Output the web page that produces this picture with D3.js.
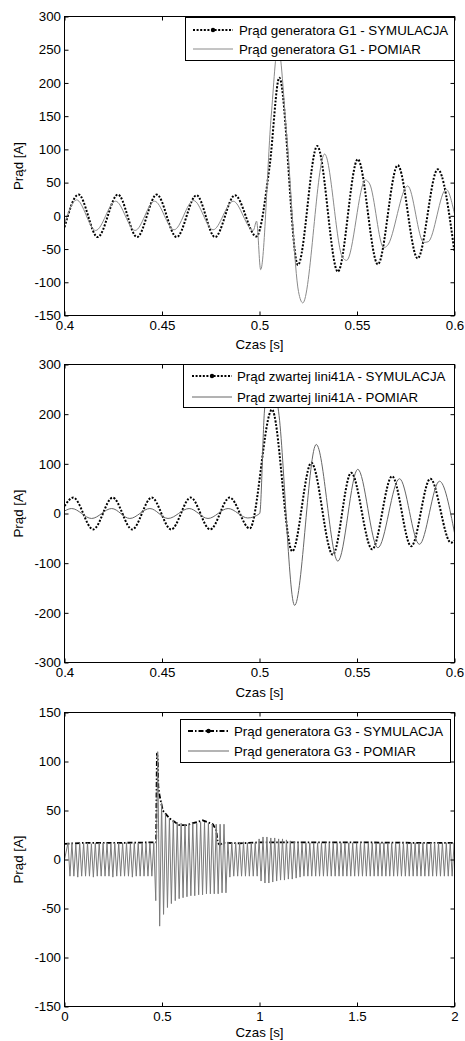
<!DOCTYPE html>
<html>
<head>
<meta charset="utf-8">
<script src="https://cdn.jsdelivr.net/npm/d3@7"></script>
<style>
body { margin: 0; background: #fff; }
svg text { font-family: "Liberation Sans", Arial, sans-serif; font-size: 13.3px; fill: #000; }
</style>
</head>
<body>
<svg id="fig" width="465" height="1041"></svg>
<script>
// ---- values: [time s, current A] ----

// panel 1: generator G1, simulation (peaks / troughs)
var SIM1 = [[0.400,-17],[0.4072,32],[0.4170,-32],[0.4274,32],[0.4372,-32],[0.4473,32],
  [0.4575,-32],[0.4677,31],[0.4772,-32],[0.4874,31],[0.4984,-31],[0.5052,75],[0.5102,208],
  [0.5197,-74],[0.5296,105],[0.5402,-84],[0.5504,85],[0.5607,-73],[0.5709,76],[0.5811,-64],
  [0.5914,70],[0.600,-55]];

// panel 1: generator G1, measurement
var MEAS1 = [[0.400,-12],[0.4062,24],[0.4160,-22],[0.4262,22],[0.4362,-22],[0.4462,22],
  [0.4562,-21],[0.4662,23],[0.4762,-21],[0.4865,22],[0.4968,-22],[0.4985,-8],[0.5006,-81],
  [0.5060,150],[0.5095,255],[0.5140,120],[0.5200,-114],[0.5222,-131],[0.5334,93],
  [0.5425,-62],[0.5447,-67],[0.5543,54],[0.5565,48],[0.5637,-48],[0.5655,-45],[0.5760,45],
  [0.5842,-40],[0.5865,-39],[0.5957,40],[0.600,3]];

// panel 2: faulted line 41A, simulation
var SIM2 = [[0.400,15],[0.4045,32],[0.4147,-32],[0.4247,32],[0.4347,-32],[0.4447,32],
  [0.4547,-32],[0.4647,32],[0.4747,-32],[0.4847,32],[0.4950,-30],[0.5064,209],[0.5168,-76],
  [0.5266,102],[0.5376,-83],[0.5470,82],[0.5578,-72],[0.5680,75],[0.5778,-66],[0.5876,70],
  [0.5982,-59],[0.600,-55]];

// panel 2: faulted line 41A, measurement
var MEAS2 = [[0.400,5],[0.4037,10],[0.4139,-10],[0.4242,10],[0.4335,-10],[0.4438,10],
  [0.4531,-10],[0.4639,10],[0.4736,-10],[0.4839,10],[0.4940,-9],[0.5001,0],[0.5027,213],
  [0.5060,262],[0.5095,213],[0.5180,-185],[0.5291,139],[0.5402,-96],[0.5504,89],
  [0.5607,-69],[0.5718,70],[0.5820,-62],[0.5923,65],[0.600,-39]];

// panel 3: generator G3, simulation (rms-like trace)
var SIM3 = [[0.000,16],[0.100,17],[0.300,17],[0.470,17.5],[0.4715,60],[0.4740,108],
  [0.4785,104],[0.4810,75],[0.4870,66],[0.5040,50],[0.5380,42],[0.5900,35],[0.6240,35],
  [0.6920,39],[0.7090,40],[0.7610,36],[0.7780,30],[0.7860,17],[0.7960,15],[0.8120,17],
  [0.9000,16.5],[1.000,17.5],[1.200,17.5],[1.500,17.5],[1.800,17],[2.000,17]];

// panel 3: generator G3, measurement, one upper and one lower peak per 50 Hz cycle
var MEAS3_T0 = 0.018, MEAS3_PERIOD = 0.02;
var MEAS3_UP = [17,17,16,17,17,17,16,17,17,17, 17,16,17,17,17,17,16,17,17,17,
  17,17,17,110,58,46,42,40,38,37, 36,36,37,37,38,38,37,36,36,36,
  36,18,17,17,17,18,17,17,17,21, 23,23,22,22,21,21,20,19,18,17,
  17,17,17,17,17,17,17,17,17,17, 17,17,17,17,17,17,17,17,17,17,
  17,17,17,17,17,17,17,17,17,17, 17,17,17,17,17,17,17,17,17,17];
var MEAS3_LO = [-17,-17,-18,-17,-17,-17,-18,-17,-17,-17, -17,-18,-17,-17,-17,-17,-18,-17,-17,-17,
  -17,-17,-42,-68,-56,-49,-45,-42,-40,-39, -38,-37,-37,-36,-36,-35,-35,-35,-35,-34,
  -34,-18,-17,-17,-17,-17,-17,-17,-17,-22, -24,-24,-23,-22,-21,-21,-20,-20,-19,-18,
  -17,-17,-17,-17,-17,-17,-17,-17,-17,-17, -17,-17,-17,-17,-17,-17,-17,-17,-17,-17,
  -17,-17,-17,-17,-17,-17,-17,-17,-17,-17, -17,-17,-17,-17,-17,-17,-17,-17,-17,-17];

var MEAS3 = [[0, 0]];
MEAS3_UP.forEach(function(v, i) {
  MEAS3.push([MEAS3_T0 + i * MEAS3_PERIOD, v]);
  MEAS3.push([MEAS3_T0 + i * MEAS3_PERIOD + MEAS3_PERIOD / 2, MEAS3_LO[i]]);
});

// ticks
var X_TICKS_A = [0.4, 0.45, 0.5, 0.55, 0.6];
var X_TICKS_B = [0, 0.5, 1, 1.5, 2];
var Y_TICKS_1 = [-150, -100, -50, 0, 50, 100, 150, 200, 250, 300];
var Y_TICKS_2 = [-300, -200, -100, 0, 100, 200, 300];
var Y_TICKS_3 = [-150, -100, -50, 0, 50, 100, 150];

var svg = d3.select('#fig');
var L = 64.5, R = 454.5;

function panel(o) {
  var x = d3.scaleLinear().domain(o.xd).range([L, R]);
  var y = d3.scaleLinear().domain(o.yd).range([o.bottom, o.top]);
  var g = svg.append('g');

  g.append('clipPath').attr('id', 'clip' + o.id)
    .append('rect').attr('x', L).attr('y', o.top).attr('width', R - L).attr('height', o.bottom - o.top);

  var plot = g.append('g').attr('clip-path', 'url(#clip' + o.id + ')');
  o.series.forEach(function(s) {
    var line = d3.line().x(function(d) { return x(d[0]); }).y(function(d) { return y(d[1]); })
      .curve(s.curve || d3.curveMonotoneX);
    plot.append('path').datum(s.data)
      .attr('d', line)
      .attr('fill', 'none')
      .attr('stroke', s.color)
      .attr('stroke-width', s.width)
      .attr('stroke-dasharray', s.dash || null)
      .attr('stroke-linejoin', 'round');
  });

  // inward ticks on all four sides, labels bottom and left only
  var fmt = function(d) { return String(d); };
  var ax = [
    [d3.axisBottom(x).tickValues(o.xt).tickSize(-4).tickPadding(5).tickFormat(fmt), 0, o.bottom],
    [d3.axisTop(x).tickValues(o.xt).tickSize(-4).tickFormat(''), 0, o.top],
    [d3.axisLeft(y).tickValues(o.yt).tickSize(-4).tickPadding(3.5).tickFormat(fmt), L, 0],
    [d3.axisRight(y).tickValues(o.yt).tickSize(-4).tickFormat(''), R, 0]
  ];
  ax.forEach(function(a) {
    var ag = g.append('g').attr('transform', 'translate(' + a[1] + ',' + a[2] + ')').call(a[0]);
    ag.select('.domain').remove();
    ag.selectAll('line').attr('stroke', '#000');
    ag.selectAll('text').attr('font-family', null).attr('font-size', null).attr('fill', '#000');
  });

  g.append('rect').attr('x', L).attr('y', o.top).attr('width', R - L).attr('height', o.bottom - o.top)
    .attr('fill', 'none').attr('stroke', '#000').attr('stroke-width', 1);

  g.append('text').attr('x', (L + R) / 2).attr('y', o.xlabelY).attr('text-anchor', 'middle').text('Czas [s]');
  g.append('text').attr('transform', 'translate(23,' + (o.top + o.bottom) / 2 + ') rotate(-90)')
    .attr('text-anchor', 'middle').text('Prąd [A]');

  // legend
  var lg = o.legend;
  g.append('rect').attr('x', lg.x0).attr('y', lg.y0).attr('width', lg.x1 - lg.x0).attr('height', lg.y1 - lg.y0)
    .attr('fill', '#fff').attr('stroke', '#000').attr('stroke-width', 1);
  o.series.forEach(function(s, i) {
    var ry = lg.rows[i];
    g.append('line').attr('x1', lg.lx0).attr('x2', lg.lx1).attr('y1', ry).attr('y2', ry)
      .attr('stroke', s.legendColor || s.color).attr('stroke-width', s.legendWidth || s.width)
      .attr('stroke-dasharray', s.dash || null);
    if (s.marker) {
      g.append('circle').attr('cx', (lg.lx0 + lg.lx1) / 2).attr('cy', ry).attr('r', 2.2).attr('fill', '#000');
    }
    g.append('text').attr('x', lg.tx).attr('y', ry + 4.6).text(s.label);
  });
}

panel({
  id: 1, xd: [0.4, 0.6], yd: [-150, 300], top: 16.5, bottom: 315.5, xt: X_TICKS_A, yt: Y_TICKS_1, xlabelY: 349,
  series: [
    { data: SIM1, color: '#000', width: 2, dash: '2,1.6', marker: true, label: 'Prąd generatora G1 - SYMULACJA' },
    { data: MEAS1, color: '#8a8a8a', width: 1, label: 'Prąd generatora G1 - POMIAR' }
  ],
  legend: { x0: 185.5, x1: 454.5, y0: 17.5, y1: 60.5, rows: [30, 49], lx0: 193, lx1: 233, tx: 239 }
});

panel({
  id: 2, xd: [0.4, 0.6], yd: [-300, 300], top: 364.5, bottom: 662.5, xt: X_TICKS_A, yt: Y_TICKS_2, xlabelY: 697,
  series: [
    { data: SIM2, color: '#000', width: 2, dash: '2,1.6', marker: true, label: 'Prąd zwartej lini41A - SYMULACJA' },
    { data: MEAS2, color: '#666', width: 1, label: 'Prąd zwartej lini41A - POMIAR' }
  ],
  legend: { x0: 183.5, x1: 454.5, y0: 364.5, y1: 407.5, rows: [376, 397], lx0: 192, lx1: 232, tx: 237 }
});

panel({
  id: 3, xd: [0, 2], yd: [-150, 150], top: 712.5, bottom: 1006.5, xt: X_TICKS_B, yt: Y_TICKS_3, xlabelY: 1037,
  series: [
    { data: SIM3, color: '#000', width: 1.8, dash: '5,2,1.5,2', marker: true, curve: d3.curveLinear,
      label: 'Prąd generatora G3 - SYMULACJA' },
    { data: MEAS3, color: '#7a7a7a', width: 1, curve: d3.curveLinear, legendColor: '#b4b4b4', legendWidth: 1.8,
      label: 'Prąd generatora G3 - POMIAR' }
  ],
  legend: { x0: 180.5, x1: 450.5, y0: 719.5, y1: 762.5, rows: [731, 751], lx0: 188, lx1: 229, tx: 234 }
});
</script>
</body>
</html>
